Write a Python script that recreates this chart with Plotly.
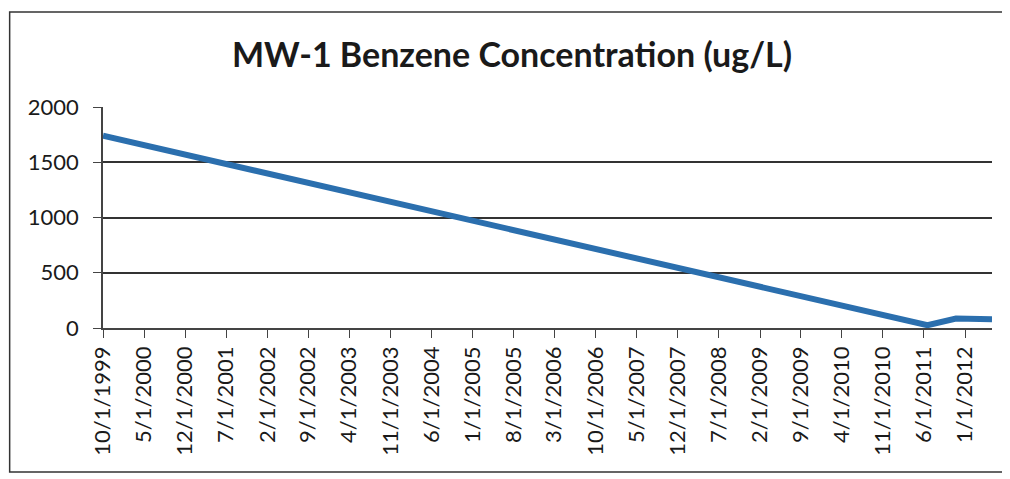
import plotly.graph_objects as go

dates = ["1999-10-01", "2011-06-20", "2011-11-15", "2012-05-20"]
benzene = [1740, 25, 85, 80]

tick_dates = ["1999-10-01", "2000-05-01", "2000-12-01", "2001-07-01", "2002-02-01",
              "2002-09-01", "2003-04-01", "2003-11-01", "2004-06-01", "2005-01-01",
              "2005-08-01", "2006-03-01", "2006-10-01", "2007-05-01", "2007-12-01",
              "2008-07-01", "2009-02-01", "2009-09-01", "2010-04-01", "2010-11-01",
              "2011-06-01", "2012-01-01"]
tick_labels = ["10/1/1999", "5/1/2000", "12/1/2000", "7/1/2001", "2/1/2002",
               "9/1/2002", "4/1/2003", "11/1/2003", "6/1/2004", "1/1/2005",
               "8/1/2005", "3/1/2006", "10/1/2006", "5/1/2007", "12/1/2007",
               "7/1/2008", "2/1/2009", "9/1/2009", "4/1/2010", "11/1/2010",
               "6/1/2011", "1/1/2012"]
y_ticks = [0, 500, 1000, 1500, 2000]

fig = go.Figure()
fig.add_trace(go.Scatter(x=dates, y=benzene, mode="lines",
                         line=dict(color="#2b6fae", width=6),
                         showlegend=False))

font_family = "Lato, 'Open Sans', sans-serif"
fig.update_layout(
    width=1010, height=479,
    margin=dict(l=95, r=26, t=99, b=159),
    paper_bgcolor="white", plot_bgcolor="white",
    title=dict(text="<b>MW-1 Benzene Concentration (ug/L)</b>",
               x=0.499, xref="container", y=0.902, yref="container",
               xanchor="center", yanchor="middle",
               font=dict(family=font_family, size=34, color="#1a1a1a")),
    xaxis=dict(range=["1999-10-01", "2012-05-20"], tickvals=tick_dates,
               ticktext=tick_labels, tickangle=-90, showgrid=False,
               showline=True, linecolor="#444", linewidth=1.5,
               ticks="outside", ticklen=8, tickcolor="#444", automargin=False,
               tickfont=dict(family=font_family, size=22, color="#1a1a1a")),
    yaxis=dict(range=[0, 2000], tickvals=y_ticks, showgrid=True,
               gridcolor="#333", gridwidth=1.5, zeroline=False,
               showline=True, linecolor="#444", linewidth=1.5,
               ticks="outside", ticklen=8, tickcolor="#444",
               ticksuffix="\u00a0\u00a0", ticklabelstandoff=10, automargin=False,
               tickfont=dict(family=font_family, size=22, color="#1a1a1a")),
    shapes=[dict(type="rect", xref="paper", yref="paper",
                 x0=-0.105, x1=1.016, y0=-0.652, y1=1.43,
                 line=dict(color="#333", width=1.5), fillcolor="rgba(0,0,0,0)")],
)

fig.write_html("out.html")
